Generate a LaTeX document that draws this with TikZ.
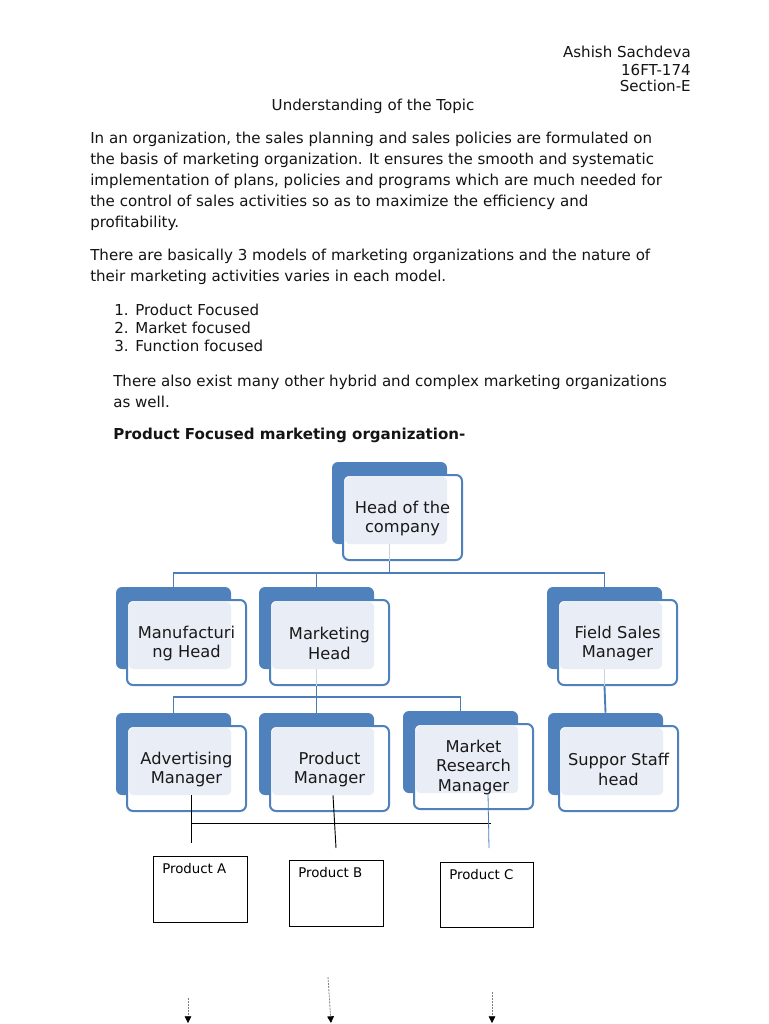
\documentclass[tikz,border=0pt]{standalone}
\usepackage{fontspec}
\setmainfont{DejaVu Sans}
\usetikzlibrary{arrows.meta}
\definecolor{dkblue}{HTML}{4F81BD}
\definecolor{lnblue}{HTML}{4A7DBA}
\definecolor{lightfill}{HTML}{E9EEF6}
\definecolor{faintln}{HTML}{C9D2DE}
\newcommand\orgnode[4]{%
  \node[backbox] (#1-b) at (#2+57.5,#3+41) {};
  \node[frontbox] (#1-f) at (#2+70.5,#3+55.5) {};
  \fill[lightfill, rounded corners=3pt] (#2+13,#3+15) rectangle (#2+115,#3+82);
  \node[orglabel] (#1) at (#2+70.5,#3+56.5) {#4};}
\begin{document}
\begin{tikzpicture}[x=0.75pt,y=-0.75pt,
  body/.style={font=\fontsize{11.3}{13}\selectfont, inner sep=0, anchor=base west, text=black!92},
  backbox/.style={fill=dkblue, rounded corners=4.5pt, minimum width=86.25pt, minimum height=61.5pt, inner sep=0},
  frontbox/.style={fill=white, draw=dkblue, line width=1.5pt, rounded corners=4.5pt, minimum width=89.25pt, minimum height=63.75pt, inner sep=0},
  orglabel/.style={font=\fontsize{12.2}{14.6}\selectfont, align=center, inner sep=0, text=black!90},
  conn/.style={draw=lnblue, line width=1.4pt},
  faint/.style={draw=faintln, line width=0.8pt},
  blk/.style={draw=black, line width=0.7pt},
  prodbox/.style={draw=black, line width=0.7pt, inner sep=0},
  prodtext/.style={font=\fontsize{10}{12}\selectfont, inner sep=0, anchor=base west},
  darrow/.style={draw=gray, dash pattern=on 1.5pt off 0.8pt, line width=0.6pt, -{Triangle[length=5pt,width=5pt,black]}}
]
\useasboundingbox[fill=white] (0,0) rectangle (768,1024);

% header
\node[body, anchor=base east] (name) at (691,58) {Ashish Sachdeva};
\node[body, anchor=base east] (roll) at (691,75) {16FT-174};
\node[body, anchor=base east] (sec) at (691,92) {Section-E};
\node[body, anchor=base] (title) at (373,110) {Understanding of the Topic};

% paragraph 1
\node[body] (p1a) at (90,143) {In an organization, the sales planning and sales policies are formulated on};
\node[body] (p1b) at (90,164) {the basis of marketing organization. It ensures the smooth and systematic};
\node[body] (p1c) at (90,185) {implementation of plans, policies and programs which are much needed for};
\node[body] (p1d) at (90,206) {the control of sales activities so as to maximize the efficiency and};
\node[body] (p1e) at (90,227) {profitability.};

% paragraph 2
\node[body] (p2a) at (90,260) {There are basically 3 models of marketing organizations and the nature of};
\node[body] (p2b) at (90,281) {their marketing activities varies in each model.};

% list
\node[body] (n1) at (114,315) {1.};
\node[body] (l1) at (135,315) {Product Focused};
\node[body] (n2) at (114,333) {2.};
\node[body] (l2) at (135,333) {Market focused};
\node[body] (n3) at (114,351) {3.};
\node[body] (l3) at (135,351) {Function focused};

% paragraph 3
\node[body] (p3a) at (113,386) {There also exist many other hybrid and complex marketing organizations};
\node[body] (p3b) at (113,407) {as well.};

\node[body, font=\fontsize{11.3}{13}\selectfont\bfseries] (heading) at (113,439) {Product Focused marketing organization-};

% org chart boxes
\orgnode{head}{332}{462}{Head of the\\company}
\orgnode{manu}{116}{587}{Manufacturi\\ng Head}
\orgnode{mkt}{259}{587}{Marketing\\Head}
\orgnode{field}{547}{587}{Field Sales\\Manager}
\orgnode{adv}{116}{713}{Advertising\\Manager}
\orgnode{pm}{259}{713}{Product\\Manager}
\orgnode{mr}{403}{711}{Market\\Research\\Manager}
\orgnode{sup}{548}{713}{Suppor Staff\\head}

% faint inner stubs
\draw[faint] (head-b.south) -- (head-b.center |- head-f.south);
\draw[faint] (mkt-b.south) -- (mkt-b.center |- mkt-f.south);
\draw[faint] (field-b.south) -- (field-b.center |- field-f.south);

% blue connectors
\coordinate (bar1) at (0,573);
\coordinate (bar2) at (0,697);
\draw[conn] (head-b.center |- head-f.south) -- (head-b.center |- bar1);
\draw[conn] (manu-b.north) -- (manu-b.north |- bar1) -- (field-b.north |- bar1) -- (field-b.north);
\draw[conn] (mkt-b.north) -- (mkt-b.north |- bar1);
\draw[conn] (mkt-b.center |- mkt-f.south) -- (mkt-b.center |- bar2);
\draw[conn] (adv-b.north) -- (adv-b.north |- bar2) -- (mr-b.north |- bar2) -- (mr-b.north);
\draw[conn] (pm-b.north) -- (pm-b.north |- bar2);
\draw[conn] (field-b.center |- field-f.south) -- (sup-b.north);

% product boxes
\node[prodbox, minimum width=70.5pt, minimum height=49.5pt] (pa) at (200,889) {};
\node[prodbox, minimum width=70.5pt, minimum height=49.5pt] (pb) at (336,893) {};
\node[prodbox, minimum width=69.75pt, minimum height=48.75pt] (pc) at (486.5,894.5) {};
\node[prodtext] (pat) at (162,873) {Product A};
\node[prodtext] (pbt) at (298,877) {Product B};
\node[prodtext] (pct) at (449,879) {Product C};

% black connectors
\coordinate (ja) at (191,823);
\coordinate (jc) at (491,823);
\coordinate (ea) at (191,843);
\coordinate (eb) at (336,848);
\coordinate (ec) at (489,848);
\draw[blk] (adv-b.south -| ja) -- (ea);
\draw[blk] (ja) -- (jc);
\draw[blk] (pm-b.south -| 333,0) -- (eb);
\draw[draw=lnblue, line width=0.6pt] (mr-b.south -| 488,0) -- (ec);

% dotted arrows
\coordinate (a1s) at (188,998);
\coordinate (a1e) at (188,1023);
\coordinate (a2s) at (328,977);
\coordinate (a2e) at (331,1023);
\coordinate (a3s) at (492,992);
\coordinate (a3e) at (492,1023);
\draw[darrow] (a1s) -- (a1e);
\draw[darrow] (a2s) -- (a2e);
\draw[darrow] (a3s) -- (a3e);
\end{tikzpicture}
\end{document}
